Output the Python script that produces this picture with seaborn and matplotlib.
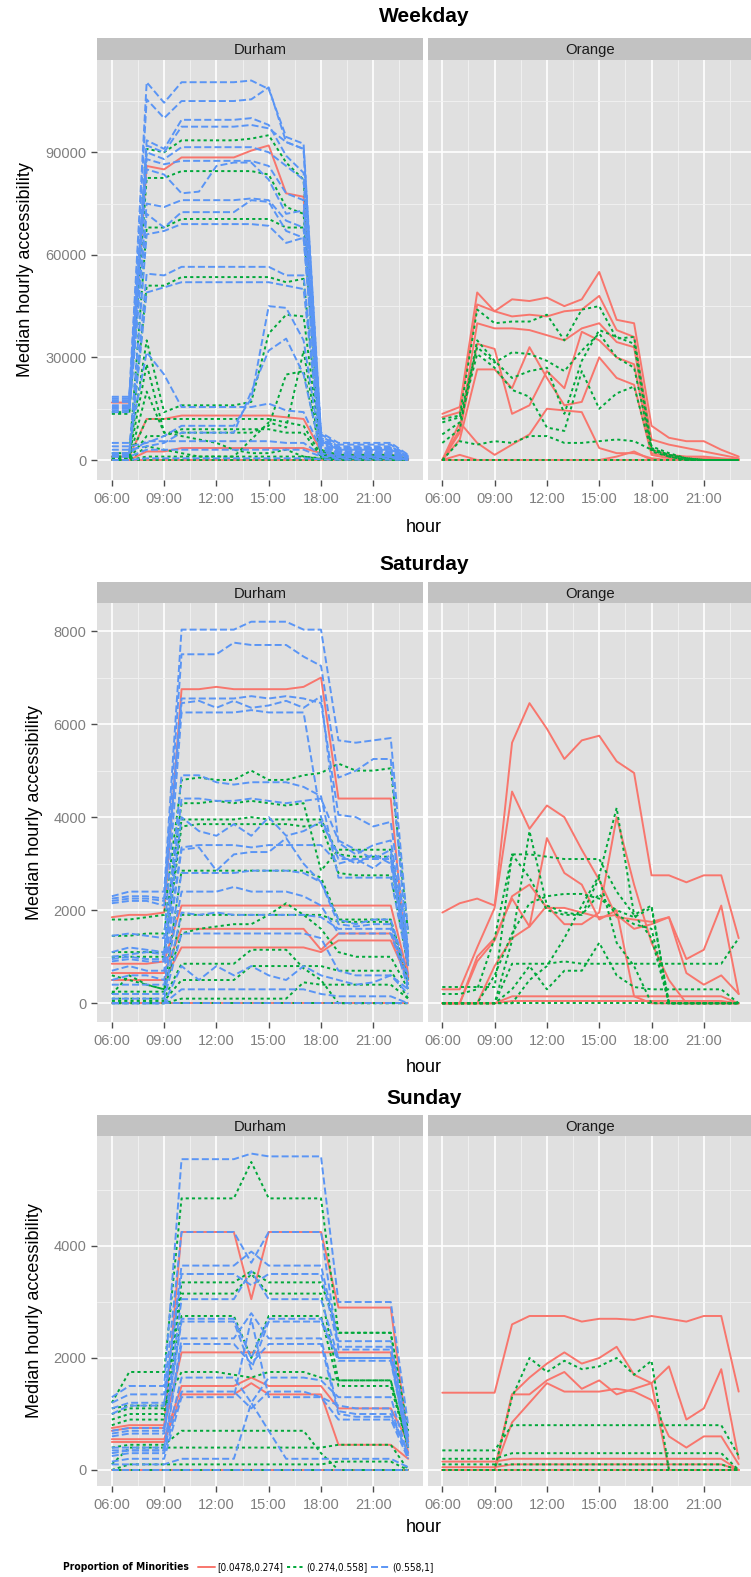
import matplotlib
matplotlib.use('Agg')
import matplotlib.pyplot as plt
import seaborn as sns
import pandas as pd
from matplotlib.lines import Line2D
from matplotlib import font_manager
from matplotlib.font_manager import FontProperties

# ---------------- data ----------------
HOURS = list(range(6, 24))
HOUR_TICKS = [6, 9, 12, 15, 18, 21]
HOUR_LABELS = ["06:00", "09:00", "12:00", "15:00", "18:00", "21:00"]
LEVELS = ["[0.0478,0.274]", "(0.274,0.558]", "(0.558,1]"]
DAYS = ["Weekday", "Saturday", "Sunday"]
COUNTIES = ["Durham", "Orange"]

# Weekday - Durham
WD_DUR_R = [
    [16800, 16800, 86000, 85000, 88500, 88500, 88500, 88500, 90500, 92000, 78000, 77000, 2000, 1500, 1500, 1500, 1500, 300],
    [1000, 1000, 12000, 12000, 13000, 13000, 13000, 13000, 13000, 13000, 12500, 12000, 2500, 1500, 1500, 1500, 1500, 300],
    [0, 0, 2500, 2500, 3500, 3500, 3500, 3500, 3500, 3500, 3500, 3500, 2000, 1000, 1000, 1000, 1000, 200],
    [0, 0, 0, 0, 0, 0, 0, 0, 0, 0, 0, 0, 0, 0, 0, 0, 0, 0],
]
WD_DUR_G = [
    [14000, 14000, 91000, 90000, 93500, 93500, 93500, 93500, 94000, 95000, 87000, 82000, 3000, 1500, 1500, 1500, 1500, 300],
    [13500, 13500, 82500, 82500, 84500, 84500, 84500, 84500, 84500, 83500, 74000, 72000, 3000, 1500, 1500, 1500, 1500, 300],
    [1000, 1000, 68000, 68000, 70500, 70500, 70500, 70500, 70500, 70500, 68000, 68000, 2500, 1000, 1000, 1000, 1000, 200],
    [500, 500, 51000, 51000, 53500, 53500, 53500, 53500, 53500, 53500, 52000, 53000, 2000, 1000, 1000, 1000, 1000, 200],
    [2000, 2000, 35000, 14000, 16000, 16000, 16000, 16000, 17000, 37000, 42500, 42000, 2000, 800, 800, 800, 800, 100],
    [1000, 1000, 28000, 8000, 8000, 8000, 8000, 8000, 8000, 10000, 25000, 26000, 1500, 500, 500, 500, 500, 100],
    [500, 500, 12000, 12000, 12000, 12000, 12000, 12000, 12000, 12000, 11000, 10000, 1500, 500, 500, 500, 500, 100],
    [300, 300, 7000, 7000, 9000, 9000, 9000, 9000, 9000, 9000, 8000, 8000, 1000, 300, 300, 300, 300, 0],
    [0, 0, 4000, 3000, 2000, 1000, 1000, 1000, 6000, 11000, 9500, 32000, 1000, 300, 300, 300, 300, 0],
    [0, 0, 20000, 8000, 7000, 6000, 5000, 3000, 2000, 2000, 3000, 1000, 500, 200, 200, 200, 200, 0],
    [0, 0, 1000, 1000, 1000, 1000, 1000, 1000, 1000, 1000, 1000, 1000, 300, 100, 100, 100, 100, 0],
    [0, 0, 0, 0, 0, 0, 0, 0, 0, 0, 0, 0, 0, 0, 0, 0, 0, 0],
]
WD_DUR_B = [
    [18500, 18500, 110500, 104500, 110500, 110500, 110500, 110500, 111000, 108500, 94500, 92500, 8000, 5000, 5000, 5000, 5000, 1500],
    [18000, 18000, 105500, 100000, 105000, 105000, 105000, 105000, 105500, 109000, 93000, 91000, 7500, 4500, 4500, 4500, 4500, 1200],
    [17500, 17500, 93500, 91000, 99500, 99500, 99500, 99500, 100000, 98000, 89000, 84000, 7000, 4000, 4000, 4000, 4000, 1000],
    [17000, 17000, 92000, 90000, 97500, 97500, 97500, 97500, 98000, 97000, 93000, 91000, 6500, 3500, 3500, 3500, 3500, 800],
    [16000, 16000, 90000, 88000, 91500, 91500, 91500, 91500, 91500, 90000, 86000, 82000, 6000, 3500, 3500, 3500, 3500, 800],
    [15500, 15500, 88000, 86500, 87500, 87500, 87500, 87500, 87500, 86000, 78000, 76000, 6000, 3000, 3000, 3000, 3000, 700],
    [15000, 15000, 85000, 83500, 78000, 78500, 86000, 87000, 87000, 82000, 72000, 73000, 5500, 3000, 3000, 3000, 3000, 600],
    [14500, 14500, 75000, 74000, 76000, 76000, 76000, 76000, 76500, 76000, 70000, 68000, 5000, 2500, 2500, 2500, 2500, 500],
    [14000, 14000, 72000, 68000, 72500, 72500, 72500, 72500, 76000, 75500, 67000, 65000, 5000, 2500, 2500, 2500, 2500, 500],
    [2000, 2000, 66000, 67000, 69000, 69000, 69000, 69000, 69000, 68500, 63500, 65000, 4500, 2000, 2000, 2000, 2000, 400],
    [1500, 1500, 54500, 54000, 56500, 56500, 56500, 56500, 56500, 56500, 54000, 54000, 4000, 2000, 2000, 2000, 2000, 400],
    [1000, 1000, 49000, 50500, 52000, 52000, 52000, 52000, 52000, 52000, 51000, 50000, 3500, 1500, 1500, 1500, 1500, 300],
    [5000, 5000, 31500, 25000, 15500, 15500, 15500, 15500, 15500, 16500, 14500, 14000, 3000, 1500, 1500, 1500, 1500, 300],
    [4000, 4000, 5000, 7000, 10000, 10000, 10000, 10000, 18000, 45000, 44500, 35000, 2500, 1000, 1000, 1000, 1000, 200],
    [3000, 3000, 4000, 5000, 8000, 8000, 8000, 8000, 20000, 32000, 35500, 25000, 2000, 1000, 1000, 1000, 1000, 200],
    [2000, 2000, 5500, 5500, 5500, 5500, 5500, 5500, 5500, 5500, 5000, 5000, 1500, 800, 800, 800, 800, 200],
    [1000, 1000, 3000, 3000, 3000, 3000, 3000, 3000, 3000, 3000, 3000, 3000, 1000, 500, 500, 500, 500, 100],
    [0, 0, 500, 500, 500, 500, 500, 500, 500, 500, 500, 500, 200, 100, 100, 100, 100, 0],
]

# Weekday - Orange
WD_ORA_R = [
    [13500, 15500, 49000, 43500, 47000, 46500, 47500, 45000, 47000, 55000, 41000, 40000, 10000, 6500, 5500, 5500, 3000, 1000],
    [12500, 14000, 45500, 43500, 42000, 42500, 42000, 43500, 44000, 48000, 38000, 36000, 6000, 4500, 3500, 2500, 1500, 500],
    [0, 9000, 40000, 38500, 38500, 38000, 36500, 35000, 38500, 40000, 34500, 33000, 3000, 1500, 1000, 1000, 500, 200],
    [0, 8000, 34000, 32500, 13500, 16000, 26000, 21000, 37500, 35000, 30000, 28000, 2000, 1000, 500, 500, 300, 100],
    [0, 6000, 26500, 26500, 21000, 33000, 24000, 16000, 17000, 30000, 24000, 22000, 1500, 500, 300, 300, 200, 0],
    [0, 11000, 5000, 1500, 4500, 7500, 15000, 14500, 14000, 3500, 2000, 2000, 500, 0, 0, 0, 0, 0],
    [0, 1500, 0, 0, 0, 0, 0, 0, 0, 0, 1000, 2500, 0, 0, 0, 0, 0, 0],
    [0, 0, 0, 0, 0, 0, 0, 0, 0, 0, 0, 0, 0, 0, 0, 0, 0, 0],
]
WD_ORA_G = [
    [12000, 13000, 44000, 40000, 40500, 40500, 42500, 35000, 44000, 45000, 35500, 36000, 4000, 2000, 500, 0, 0, 0],
    [11000, 12500, 33000, 28500, 31500, 31000, 29000, 26000, 32000, 37000, 30000, 27000, 3500, 1500, 500, 0, 0, 0],
    [7500, 11000, 31000, 27000, 20500, 18500, 9500, 8500, 26000, 15000, 19500, 21500, 2500, 1000, 0, 0, 0, 0],
    [5000, 9000, 35000, 29000, 24000, 26000, 27000, 13500, 29000, 38000, 36000, 34000, 3000, 1000, 0, 0, 0, 0],
    [0, 5500, 4500, 5500, 5000, 7000, 7000, 5000, 5000, 5500, 6000, 5500, 3000, 1500, 500, 0, 0, 0],
    [0, 0, 0, 0, 0, 0, 0, 0, 0, 0, 0, 0, 0, 0, 0, 0, 0, 0],
]
WD_ORA_B = []

# Saturday - Durham
SA_DUR_R = [
    [1850, 1900, 1900, 1950, 6750, 6750, 6800, 6750, 6750, 6750, 6750, 6800, 7000, 4400, 4400, 4400, 4400, 550],
    [850, 850, 850, 900, 2100, 2100, 2100, 2100, 2100, 2100, 2100, 2100, 2100, 2100, 2100, 2100, 2100, 600],
    [650, 650, 650, 650, 1600, 1600, 1600, 1600, 1600, 1600, 1600, 1600, 1150, 1500, 1500, 1500, 1500, 550],
    [500, 500, 500, 500, 1200, 1200, 1200, 1200, 1200, 1200, 1200, 1200, 1100, 1350, 1350, 1350, 1350, 500],
    [0, 0, 0, 0, 0, 0, 0, 0, 0, 0, 0, 0, 0, 0, 0, 0, 0, 0],
]
SA_DUR_G = [
    [1800, 1800, 1850, 1900, 4800, 4850, 4800, 4800, 5000, 4800, 4800, 4900, 4950, 5150, 5000, 5000, 5050, 1500],
    [1450, 1450, 1500, 1500, 4300, 4300, 4350, 4300, 4350, 4300, 4250, 4300, 2850, 3300, 3300, 3300, 3300, 1000],
    [1100, 1100, 1100, 1100, 3950, 3950, 3950, 3950, 4000, 3950, 3950, 3950, 3950, 3200, 3150, 3150, 3150, 900],
    [1000, 1000, 1000, 1000, 3800, 3850, 3850, 3850, 3850, 3850, 3850, 3800, 3850, 2800, 2750, 2750, 2750, 800],
    [600, 500, 400, 300, 2850, 2850, 2850, 2850, 2850, 2850, 2850, 2850, 2700, 1800, 1800, 1800, 1800, 500],
    [250, 250, 250, 250, 1900, 1900, 1900, 1900, 1900, 1900, 1900, 1900, 1900, 1750, 1750, 1750, 1750, 400],
    [200, 600, 400, 300, 1500, 1600, 1650, 1700, 1700, 1900, 2150, 1900, 1600, 1100, 1000, 1000, 1000, 300],
    [100, 100, 100, 100, 850, 850, 850, 850, 1150, 1150, 1150, 750, 500, 0, 0, 0, 0, 0],
    [50, 50, 50, 50, 500, 500, 500, 500, 800, 800, 800, 800, 800, 700, 700, 700, 700, 100],
    [0, 0, 0, 0, 100, 100, 100, 100, 100, 100, 100, 450, 400, 400, 400, 400, 400, 100],
    [0, 0, 0, 0, 0, 0, 0, 0, 0, 0, 0, 0, 0, 0, 0, 0, 0, 0],
]
SA_DUR_B = [
    [2300, 2400, 2400, 2400, 8030, 8030, 8030, 8030, 8200, 8200, 8200, 8030, 8030, 5650, 5600, 5650, 5700, 1500],
    [2250, 2300, 2300, 2250, 7500, 7500, 7500, 7750, 7700, 7700, 7700, 7450, 7250, 4850, 5000, 5250, 5250, 1000],
    [2200, 2250, 2250, 2200, 6550, 6550, 6550, 6550, 6600, 6550, 6600, 6550, 6450, 4050, 4000, 3800, 3900, 1200],
    [2150, 2200, 2200, 2100, 6450, 6500, 6350, 6500, 6350, 6400, 6500, 6350, 6600, 3450, 3200, 3400, 3500, 1100],
    [1450, 1500, 1450, 1400, 6250, 6250, 6250, 6250, 6300, 6250, 6250, 6250, 4000, 3100, 3100, 3100, 3100, 900],
    [1100, 1200, 1150, 1100, 4900, 4900, 4750, 4700, 4750, 4750, 4750, 4650, 4450, 2700, 2700, 2700, 2700, 800],
    [1000, 1050, 1100, 1050, 4400, 4400, 4350, 4350, 4400, 4350, 4300, 4350, 4400, 3500, 3300, 3100, 3300, 1000],
    [950, 1000, 950, 950, 4000, 3700, 3600, 3850, 3600, 4000, 3600, 3700, 3900, 3200, 3000, 3200, 3000, 900],
    [900, 950, 900, 900, 3350, 3400, 3400, 3400, 3350, 3400, 3400, 3400, 3400, 3000, 3100, 2900, 3200, 800],
    [700, 800, 700, 700, 3300, 3350, 2850, 3200, 3250, 3250, 3550, 3000, 2600, 1800, 1700, 1800, 1800, 600],
    [500, 600, 600, 500, 2800, 2800, 2800, 2800, 2850, 2850, 2850, 2800, 2600, 1700, 1650, 1700, 1700, 500],
    [400, 400, 400, 400, 2400, 2400, 2400, 2500, 2400, 2400, 2400, 2300, 2100, 1500, 1500, 1500, 1500, 400],
    [200, 200, 200, 200, 1950, 1900, 1950, 1900, 1900, 1900, 1900, 1900, 1850, 1600, 1600, 1600, 1600, 300],
    [100, 100, 100, 100, 1500, 1500, 1500, 1500, 1500, 1500, 1500, 1500, 1400, 700, 600, 600, 600, 200],
    [0, 0, 0, 0, 800, 500, 800, 600, 800, 600, 500, 800, 600, 500, 400, 450, 600, 300],
    [0, 0, 0, 0, 300, 300, 300, 300, 300, 300, 300, 300, 200, 150, 150, 150, 150, 0],
    [0, 0, 0, 0, 0, 0, 0, 0, 0, 0, 0, 0, 0, 0, 0, 0, 0, 0],
]

# Saturday - Orange
SA_ORA_R = [
    [1950, 2150, 2250, 2100, 5600, 6450, 5900, 5250, 5650, 5750, 5200, 4950, 2750, 2750, 2600, 2750, 2750, 1400],
    [300, 300, 1200, 2050, 4550, 3750, 4250, 4000, 3300, 2650, 1850, 1800, 1750, 1850, 950, 1150, 2100, 200],
    [0, 0, 1000, 1400, 2250, 1650, 3550, 2800, 2550, 1800, 2000, 150, 0, 0, 0, 0, 0, 0],
    [0, 0, 0, 800, 1400, 1650, 2100, 1700, 1700, 1950, 4000, 2550, 1300, 500, 0, 0, 0, 0],
    [0, 0, 900, 1350, 2300, 2550, 2050, 2050, 1950, 1850, 1900, 1600, 1700, 1850, 650, 400, 600, 200],
    [0, 0, 0, 0, 150, 150, 150, 150, 150, 150, 150, 150, 150, 150, 150, 150, 150, 0],
    [0, 0, 0, 0, 50, 50, 50, 50, 50, 50, 50, 50, 50, 50, 50, 50, 50, 0],
]
SA_ORA_G = [
    [350, 350, 350, 350, 3200, 3200, 3150, 3100, 3100, 3100, 2400, 1900, 2100, 0, 0, 0, 0, 0],
    [200, 200, 300, 1400, 3200, 2700, 2000, 1900, 1900, 2350, 1900, 1700, 1600, 0, 0, 0, 0, 0],
    [0, 0, 0, 0, 1350, 3700, 2100, 1950, 1900, 2700, 1300, 800, 0, 0, 0, 0, 0, 0],
    [0, 0, 0, 0, 0, 500, 800, 1400, 2100, 2750, 4200, 1900, 1400, 0, 0, 0, 0, 0],
    [0, 0, 0, 600, 1500, 2150, 2300, 2350, 2350, 2250, 2000, 1850, 2050, 0, 0, 0, 0, 0],
    [0, 0, 0, 0, 850, 850, 850, 900, 850, 850, 850, 850, 850, 850, 850, 850, 850, 1400],
    [0, 0, 0, 0, 300, 800, 300, 700, 700, 1300, 600, 350, 300, 300, 300, 300, 300, 0],
    [0, 0, 0, 0, 0, 0, 0, 0, 0, 0, 0, 0, 0, 0, 0, 0, 0, 0],
]
SA_ORA_B = []

# Sunday - Durham
SU_DUR_R = [
    [750, 800, 800, 800, 4250, 4250, 4250, 4250, 3050, 4250, 4250, 4250, 4250, 2900, 2900, 2900, 2900, 500],
    [700, 750, 750, 750, 2100, 2100, 2100, 2100, 2100, 2100, 2100, 2100, 2100, 2100, 2100, 2100, 2100, 300],
    [550, 550, 550, 550, 1500, 1500, 1500, 1500, 1650, 1500, 1500, 1500, 1500, 1100, 1100, 1100, 1100, 500],
    [500, 500, 500, 500, 1350, 1350, 1350, 1350, 1550, 1350, 1350, 1350, 1350, 450, 450, 450, 450, 200],
    [0, 0, 0, 0, 0, 0, 0, 0, 0, 0, 0, 0, 0, 0, 0, 0, 0, 0],
]
SU_DUR_G = [
    [1200, 1750, 1750, 1750, 4850, 4850, 4850, 4850, 5500, 4850, 4850, 4850, 4850, 2450, 2450, 2450, 2450, 700],
    [1000, 1100, 1100, 1100, 3350, 3350, 3350, 3350, 3550, 3350, 3350, 3350, 3350, 2450, 2450, 2450, 2450, 600],
    [900, 1000, 1000, 1000, 3150, 3150, 3150, 3150, 3500, 3150, 3150, 3150, 3150, 1600, 1600, 1600, 1600, 400],
    [800, 900, 900, 900, 2750, 2750, 2750, 2750, 2000, 2750, 2750, 2750, 2750, 1500, 1500, 1500, 1500, 400],
    [1100, 1150, 1150, 1150, 1750, 1750, 1750, 1700, 1650, 1750, 1750, 1750, 1650, 1600, 1600, 1600, 1600, 400],
    [400, 450, 450, 450, 700, 700, 700, 700, 700, 700, 700, 700, 300, 0, 0, 0, 0, 0],
    [100, 400, 400, 400, 400, 400, 400, 400, 400, 400, 400, 400, 400, 450, 450, 450, 450, 0],
    [0, 100, 100, 100, 100, 100, 100, 100, 100, 100, 100, 100, 100, 150, 150, 150, 150, 0],
    [0, 0, 0, 0, 0, 0, 0, 0, 0, 0, 0, 0, 0, 0, 0, 0, 0, 0],
]
SU_DUR_B = [
    [1300, 1500, 1500, 1500, 5550, 5550, 5550, 5550, 5650, 5600, 5600, 5600, 5600, 3000, 3000, 3000, 3000, 800],
    [1200, 1350, 1350, 1350, 4250, 4250, 4250, 4250, 3700, 4250, 4250, 4250, 4250, 2150, 2150, 2150, 2150, 600],
    [1100, 1200, 1200, 1200, 3650, 3650, 3650, 3650, 3900, 3650, 3650, 3650, 3650, 2300, 2300, 2300, 2300, 600],
    [1000, 1150, 1150, 1150, 3500, 3500, 3500, 3500, 3300, 3500, 3500, 3500, 3500, 2200, 2200, 2200, 2200, 500],
    [700, 750, 750, 750, 3050, 3050, 3050, 3050, 3550, 3050, 3050, 3050, 3050, 2000, 2000, 2000, 2000, 500],
    [650, 700, 700, 700, 2700, 2700, 2700, 2700, 2000, 2700, 2700, 2700, 2700, 2000, 2000, 2000, 2000, 400],
    [600, 650, 650, 650, 2650, 2650, 2650, 2650, 1800, 2650, 2650, 2650, 2650, 1950, 1950, 1950, 1950, 400],
    [400, 400, 400, 400, 2350, 2350, 2350, 2350, 2800, 2350, 2350, 2350, 2350, 1050, 1000, 1000, 1000, 300],
    [350, 350, 350, 350, 2250, 2250, 2250, 2250, 1900, 2250, 2250, 2250, 2250, 1000, 950, 950, 950, 300],
    [300, 350, 350, 350, 1650, 1650, 1650, 1650, 1200, 1650, 1650, 1650, 1600, 1300, 1300, 1300, 1300, 250],
    [250, 300, 300, 300, 1400, 1400, 1400, 1400, 1100, 1400, 1400, 1400, 1300, 1150, 1100, 1100, 1100, 200],
    [150, 200, 200, 200, 1300, 1300, 1300, 1300, 2700, 1300, 1300, 1300, 1300, 900, 900, 900, 900, 200],
    [100, 100, 100, 100, 200, 200, 200, 200, 1200, 700, 200, 200, 200, 200, 200, 200, 200, 50],
    [0, 0, 0, 0, 0, 0, 0, 0, 0, 0, 0, 0, 0, 0, 0, 0, 0, 0],
]

# Sunday - Orange
SU_ORA_R = [
    [1380, 1380, 1380, 1380, 2600, 2750, 2750, 2750, 2650, 2700, 2700, 2680, 2750, 2700, 2650, 2750, 2750, 1400],
    [0, 0, 0, 0, 1350, 1650, 1900, 2100, 1900, 2000, 2200, 1700, 1550, 1850, 900, 1100, 1800, 200],
    [0, 0, 0, 0, 850, 1200, 1550, 1400, 1400, 1400, 1450, 1400, 1250, 600, 400, 600, 600, 100],
    [0, 0, 0, 0, 1350, 1350, 1600, 1750, 1450, 1600, 1350, 1450, 1550, 0, 0, 0, 0, 0],
    [150, 150, 150, 150, 200, 200, 200, 200, 200, 200, 200, 200, 200, 200, 200, 200, 200, 0],
    [50, 50, 50, 50, 100, 100, 100, 100, 100, 100, 100, 100, 100, 100, 100, 100, 100, 0],
    [0, 0, 0, 0, 0, 0, 0, 0, 0, 0, 0, 0, 0, 0, 0, 0, 0, 0],
]
SU_ORA_G = [
    [350, 350, 350, 350, 800, 800, 800, 800, 800, 800, 800, 800, 800, 800, 800, 800, 800, 250],
    [0, 0, 0, 0, 1300, 2000, 1750, 1950, 1800, 1850, 2000, 1700, 1950, 0, 0, 0, 0, 0],
    [200, 200, 200, 200, 300, 300, 300, 300, 300, 300, 300, 300, 300, 300, 300, 300, 300, 0],
    [100, 100, 100, 100, 100, 100, 100, 100, 100, 100, 100, 100, 100, 100, 100, 100, 100, 0],
    [0, 0, 0, 0, 0, 0, 0, 0, 0, 0, 0, 0, 0, 0, 0, 0, 0, 0],
]
SU_ORA_B = []

Y_TICKS = {
    "Weekday": [0, 30000, 60000, 90000],
    "Saturday": [0, 2000, 4000, 6000, 8000],
    "Sunday": [0, 2000, 4000],
}

PANEL_DATA = {
    ("Weekday", "Durham"): (WD_DUR_R, WD_DUR_G, WD_DUR_B),
    ("Weekday", "Orange"): (WD_ORA_R, WD_ORA_G, WD_ORA_B),
    ("Saturday", "Durham"): (SA_DUR_R, SA_DUR_G, SA_DUR_B),
    ("Saturday", "Orange"): (SA_ORA_R, SA_ORA_G, SA_ORA_B),
    ("Sunday", "Durham"): (SU_DUR_R, SU_DUR_G, SU_DUR_B),
    ("Sunday", "Orange"): (SU_ORA_R, SU_ORA_G, SU_ORA_B),
}

records = []
for (day, county), groups in PANEL_DATA.items():
    for level, lines in zip(LEVELS, groups):
        for i, vals in enumerate(lines):
            assert len(vals) == len(HOURS)
            for h, v in zip(HOURS, vals):
                records.append((day, county, level, f"{day}-{county}-{level}-{i}", h, v))
df = pd.DataFrame(records, columns=["day", "county", "group", "line", "hour", "value"])

# ---------------- style ----------------
sns.set_theme(style="darkgrid")
available = {f.name for f in font_manager.fontManager.ttflist}
BASE = "Liberation Sans" if "Liberation Sans" in available else "DejaVu Sans"
plt.rcParams["font.family"] = [BASE, "DejaVu Sans"]


def find_narrow(bold):
    cands = []
    for f in font_manager.fontManager.ttflist:
        nm = f.name.lower()
        st = str(f.stretch).lower()
        narrowish = ("narrow" in nm or "condensed" in nm or st in ("condensed", "semi-condensed", "500", "600"))
        if not narrowish:
            continue
        if "mono" in nm or "serif" in nm and "sans" not in nm:
            continue
        isbold = str(f.weight).lower() in ("bold", "700", "semibold", "600")
        if isbold != bold:
            continue
        if "italic" in str(f.style).lower() or "oblique" in str(f.style).lower():
            continue
        pri = 0 if "liberation" in nm else (1 if "sans" in nm else 2)
        cands.append((pri, f.fname))
    if cands:
        cands.sort()
        return FontProperties(fname=cands[0][1])
    return FontProperties(family=BASE, weight="bold" if bold else "normal")


FP_LEG_TITLE = find_narrow(True)
FP_LEG = find_narrow(False)

PALETTE = {LEVELS[0]: "#F8766D", LEVELS[1]: "#00A83A", LEVELS[2]: "#5A95F5"}
DASHES = {LEVELS[0]: "", LEVELS[1]: (1.6, 1.6), LEVELS[2]: (3.6, 1.6)}
LW = 1.4
PANEL_BG = "#E0E0E0"
STRIP_BG = "#C2C2C2"
TICK_COL = "#7F7F7F"

W, H = 751, 1577
fig = plt.figure(figsize=(W / 100, H / 100), dpi=100)


def rect(x0, x1, y0, y1):
    return [x0 / W, 1 - y1 / H, (x1 - x0) / W, (y1 - y0) / H]


ROWS = {
    "Weekday": dict(title=17, strip=(38, 60), panel=(60, 480), hour=527, ylim=(-5850, 117000)),
    "Saturday": dict(title=565, strip=(582, 603), panel=(603, 1022), hour=1067, ylim=(-402, 8602)),
    "Sunday": dict(title=1098, strip=(1115, 1136), panel=(1136, 1486), hour=1528, ylim=(-286, 5964)),
}
COLS = {"Durham": (97, 423), "Orange": (427.5, 753.5)}
XLIM = (5.15, 23.85)

for day in DAYS:
    r = ROWS[day]
    yt = Y_TICKS[day]
    ystep = yt[1] - yt[0]
    lo, hi = r["ylim"]
    yminor = [v + ystep / 2 for v in yt] + [yt[0] - ystep / 2]
    yminor = [v for v in yminor if lo < v < hi]
    for county in COUNTIES:
        x0, x1 = COLS[county]
        ax = fig.add_axes(rect(x0, x1, *r["panel"]))
        ax.set_facecolor(PANEL_BG)
        sub = df[(df.day == day) & (df.county == county)]
        sns.lineplot(data=sub, x="hour", y="value", hue="group", style="group",
                     units="line", estimator=None, hue_order=LEVELS, style_order=LEVELS,
                     palette=PALETTE, dashes=DASHES, linewidth=LW, legend=False,
                     sort=True, ax=ax)
        ax.set_xticks(HOUR_TICKS)
        ax.set_xticklabels(HOUR_LABELS)
        ax.set_xticks([7.5, 10.5, 13.5, 16.5, 19.5, 22.5], minor=True)
        ax.set_yticks(yt)
        ax.set_yticks(yminor, minor=True)
        ax.set_xlim(*XLIM)
        ax.set_ylim(lo, hi)
        ax.grid(which="major", color="white", linewidth=1.2)
        ax.grid(which="minor", color="#F2F2F2", linewidth=0.6)
        ax.set_axisbelow(True)
        for s in ax.spines.values():
            s.set_visible(False)
        ax.tick_params(axis="x", which="major", length=4.5, width=1, color="#4D4D4D",
                       labelcolor=TICK_COL, labelsize=10.5, pad=4, bottom=True)
        ax.tick_params(which="minor", length=0)
        if county == "Durham":
            ax.set_yticklabels([str(v) for v in yt])
            ax.tick_params(axis="y", which="major", length=4.5, width=1, color="#4D4D4D",
                           labelcolor=TICK_COL, labelsize=10.5, pad=3, left=True)
            ax.set_ylabel("Median hourly accessibility", fontsize=13, color="black", labelpad=8)
        else:
            ax.set_yticklabels([])
            ax.tick_params(axis="y", which="major", length=0, left=False)
            ax.set_ylabel("")
        ax.set_xlabel("")
        # strip
        sax = fig.add_axes(rect(x0, x1, *r["strip"]))
        sax.set_facecolor(STRIP_BG)
        sax.set_xticks([])
        sax.set_yticks([])
        for s in sax.spines.values():
            s.set_visible(False)
        sax.text(0.5, 0.45, county, ha="center", va="center", fontsize=10.7,
                 color="#1A1A1A", transform=sax.transAxes)
    fig.text(424 / W, 1 - r["title"] / H, day, ha="center", va="center",
             fontsize=15, fontweight="bold", color="black")
    fig.text(424 / W, 1 - r["hour"] / H, "hour", ha="center", va="center",
             fontsize=13, color="black")

# legend
renderer = fig.canvas.get_renderer()


def fitted_text(x, y, s, width_px, size, fp, max_size):
    fp = fp.copy()
    fp.set_size(size)
    t = fig.text(x / W, 1 - y / H, s, ha="left", va="center", fontproperties=fp, color="black")
    w = t.get_window_extent(renderer).width
    new = min(size * width_px / w, max_size)
    t.set_fontsize(new)
    return t


LY = 1567
fitted_text(63, LY, "Proportion of Minorities", 124, 10, FP_LEG_TITLE, 11)
keys = [(198, 215, 217, 66), (287, 304, 306, 61), (371, 389, 392, 41)]
for level, (k0, k1, tx, tw) in zip(LEVELS, keys):
    ls = "-" if DASHES[level] == "" else (0, DASHES[level])
    fig.add_artist(Line2D([k0 / W, k1 / W], [1 - LY / H, 1 - LY / H], transform=fig.transFigure,
                          color=PALETTE[level], linewidth=LW, linestyle=ls))
    fitted_text(tx, LY, level, tw, 9.5, FP_LEG, 11)

fig.savefig("out.png", dpi=100, facecolor="white")
